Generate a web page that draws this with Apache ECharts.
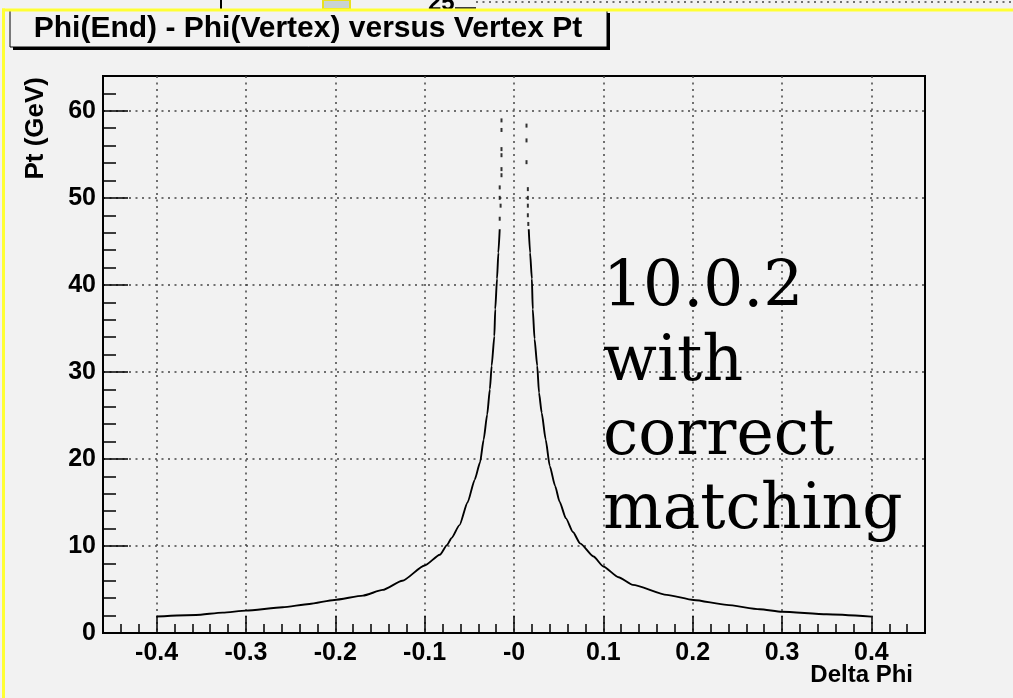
<!DOCTYPE html>
<html>
<head>
<meta charset="utf-8">
<script src="https://cdn.jsdelivr.net/npm/echarts@6.0.0/dist/echarts.min.js"></script>
<style>
html, body { margin: 0; padding: 0; background: #f2f2f2; }
#chart { width: 1013px; height: 698px; }
</style>
</head>
<body>
<div id="chart"></div>
<script>
// axis ticks
const xMajorTicks = [-0.4, -0.3, -0.2, -0.1, 0, 0.1, 0.2, 0.3, 0.4];
const yMajorTicks = [0, 10, 20, 30, 40, 50, 60];

// [delta phi, pt]
const leftBranch = [
  [-0.400, 1.90], [-0.356, 2.07], [-0.326, 2.34], [-0.300, 2.57], [-0.259, 2.96],
  [-0.229, 3.34], [-0.201, 3.80], [-0.169, 4.30], [-0.147, 4.95], [-0.125, 6.00],
  [-0.100, 7.76], [-0.083, 8.99], [-0.075, 10.1], [-0.070, 10.9], [-0.061, 12.4],
  [-0.052, 15.0], [-0.044, 17.6], [-0.038, 19.6], [-0.034, 22.2], [-0.030, 25.1],
  [-0.027, 28.0], [-0.025, 30.7], [-0.022, 34.1], [-0.021, 37.2], [-0.019, 40.7],
  [-0.0175, 43.7], [-0.016, 46.4]
];
const rightBranch = [
  [0.0165, 46.4], [0.018, 43.7], [0.020, 40.7], [0.021, 37.2], [0.023, 33.8],
  [0.026, 30.7], [0.028, 27.6], [0.031, 25.3], [0.0355, 22.2], [0.040, 19.2],
  [0.046, 16.9], [0.051, 15.1], [0.058, 13.2], [0.066, 11.6], [0.074, 10.3],
  [0.089, 8.79], [0.100, 7.64], [0.117, 6.41], [0.133, 5.53], [0.171, 4.38],
  [0.201, 3.80], [0.238, 3.23], [0.275, 2.73], [0.300, 2.45], [0.350, 2.15],
  [0.400, 1.88]
];
const leftTopDots = [
  [-0.014, 58.9], [-0.014, 57.8], [-0.014, 55.6], [-0.014, 54.9], [-0.014, 53.3],
  [-0.014, 52.6], [-0.016, 51.2], [-0.016, 50.0], [-0.015, 49.1], [-0.016, 47.6]
];
const rightTopDots = [
  [0.014, 58.3], [0.014, 56.6], [0.014, 54.1], [0.0155, 51.0], [0.0155, 50.0],
  [0.0155, 49.1], [0.0155, 48.0], [0.016, 47.0]
];

const titleText = 'Phi(End) - Phi(Vertex) versus Vertex Pt';
const noteLines = ['10.0.2', 'with', 'correct', 'matching'];

const labelFont = {
  color: '#000',
  fontFamily: 'Liberation Sans',
  fontWeight: 'bold',
  fontSize: 25
};
const gridDots = { type: [2, 4.5], color: '#444', width: 1.5 };
const tickStyle = { color: '#000', width: 1.5 };
const curveStyle = { color: '#000', width: 1.9 };

const myChart = echarts.init(document.getElementById('chart'), null, { renderer: 'canvas' });

const option = {
  backgroundColor: '#f2f2f2',
  animation: false,
  grid: {
    left: 103, top: 76, right: 88, bottom: 65,
    show: true,
    borderColor: '#000',
    borderWidth: 2,
    backgroundColor: 'transparent'
  },
  xAxis: [
    {
      type: 'value', min: -0.46, max: 0.46, interval: 0.02,
      axisLine: { show: true, onZero: false, lineStyle: { color: '#000', width: 2 } },
      axisTick: { inside: true, length: 9, lineStyle: tickStyle },
      axisLabel: { show: false },
      splitLine: { show: false }
    },
    {
      type: 'value', position: 'bottom', min: -0.46, max: 0.46,
      axisLine: { show: false, onZero: false },
      axisTick: { inside: true, length: 17, customValues: xMajorTicks, lineStyle: tickStyle },
      axisLabel: Object.assign({
        customValues: xMajorTicks,
        margin: 8,
        formatter: v => (v === 0 ? '-0' : String(v))
      }, labelFont),
      splitLine: { show: true, lineStyle: gridDots }
    }
  ],
  yAxis: [
    {
      type: 'value', min: 0, max: 64, interval: 2,
      axisLine: { show: true, onZero: false, lineStyle: { color: '#000', width: 2 } },
      axisTick: { inside: true, length: 13, lineStyle: tickStyle },
      axisLabel: { show: false },
      splitLine: { show: false }
    },
    {
      type: 'value', position: 'left', min: 0, max: 64,
      axisLine: { show: false, onZero: false },
      axisTick: { inside: true, length: 25, customValues: yMajorTicks, lineStyle: tickStyle },
      axisLabel: Object.assign({ customValues: yMajorTicks, margin: 7 }, labelFont),
      splitLine: { show: true, lineStyle: gridDots }
    }
  ],
  series: [
    {
      type: 'line', data: leftBranch, xAxisIndex: 0, yAxisIndex: 0,
      smooth: 0.2, smoothMonotone: 'x', symbol: 'none',
      lineStyle: curveStyle
    },
    {
      type: 'line', data: rightBranch, xAxisIndex: 0, yAxisIndex: 0,
      smooth: 0.2, smoothMonotone: 'x', symbol: 'none',
      lineStyle: curveStyle
    },
    {
      type: 'scatter', data: leftTopDots.concat(rightTopDots), xAxisIndex: 0, yAxisIndex: 0,
      symbol: 'rect', symbolSize: [2, 4],
      itemStyle: { color: '#000' }
    }
  ],
  graphic: [
    // title pave with shadow
    { type: 'rect', shape: { x: 13, y: 13, width: 597, height: 37 }, style: { fill: '#000' } },
    { type: 'rect', shape: { x: 10, y: 10, width: 597, height: 37 },
      style: { fill: '#f2f2f2', stroke: '#000', lineWidth: 1 } },
    { type: 'text', x: 308, y: 29,
      style: { text: titleText, align: 'center', verticalAlign: 'middle',
        font: 'bold 30px "Liberation Sans"', fill: '#000' } },
    // axis titles
    { type: 'text', x: 36, y: 77, rotation: Math.PI / 2,
      style: { text: 'Pt (GeV)', align: 'right', verticalAlign: 'middle',
        font: 'bold 26px "Liberation Sans"', fill: '#000' } },
    { type: 'text', x: 913, y: 675,
      style: { text: 'Delta Phi', align: 'right', verticalAlign: 'middle',
        font: 'bold 24px "Liberation Sans"', fill: '#000' } },
    // annotation
    { type: 'text', x: 603, y: 253, z: 10,
      style: { text: noteLines.join('\n'), align: 'left', verticalAlign: 'top',
        font: '63px "DejaVu Serif"', lineHeight: 74, fill: '#000' } },
    // clipped bits of the neighbouring pad above
    { type: 'line', shape: { x1: 221, y1: 0, x2: 221, y2: 9 }, style: { stroke: '#000', lineWidth: 2 } },
    { type: 'rect', shape: { x: 323, y: 0, width: 27, height: 9 }, style: { fill: '#c9d3d3', stroke: '#e8e020', lineWidth: 2 } },
    { type: 'text', x: 428, y: 3, style: { text: '25', verticalAlign: 'middle', font: 'bold 24px "Liberation Sans"', fill: '#000' } },
    { type: 'line', shape: { x1: 455, y1: 8, x2: 476, y2: 8 }, style: { stroke: '#000', lineWidth: 1.5 } },
    { type: 'line', shape: { x1: 476, y1: 2, x2: 1013, y2: 2 }, style: { stroke: '#444', lineWidth: 1.5, lineDash: [2, 4.5] } },
    // yellow selection frame
    { type: 'rect', z: 20, shape: { x: 2, y: 8.5, width: 1011, height: 3 }, style: { fill: '#ffff33' } },
    { type: 'rect', z: 20, shape: { x: 2, y: 8.5, width: 3, height: 690 }, style: { fill: '#ffff33' } }
  ]
};

myChart.setOption(option);
</script>
</body>
</html>
